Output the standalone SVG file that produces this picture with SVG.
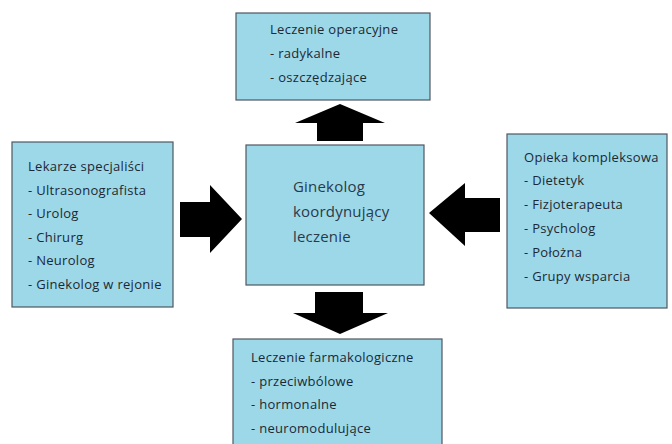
<svg xmlns="http://www.w3.org/2000/svg" width="672" height="444" viewBox="0 0 672 444">
<style>
.box{fill:#9dd8e9;stroke:#4e5861;stroke-width:1.2}
.t{font-family:"Open Sans","Liberation Sans",sans-serif;font-size:13px;letter-spacing:0.3px;fill:#1c2834}
.c{font-family:"Open Sans","Liberation Sans",sans-serif;font-size:15px;letter-spacing:0.2px;fill:#2a3a48}
.arr{fill:#000}
</style>
<rect width="672" height="444" fill="#fff"/>
<g id="top">
<rect class="box" x="236" y="13" width="194" height="87"/>
<text class="t" x="270" y="34">Leczenie operacyjne</text>
<text class="t" x="270" y="58">- radykalne</text>
<text class="t" x="270" y="82">- oszczędzające</text>
</g>
<g id="left">
<rect class="box" x="12" y="142" width="161" height="165"/>
<text class="t" x="28" y="171">Lekarze specjaliści</text>
<text class="t" x="28" y="195">- Ultrasonografista</text>
<text class="t" x="28" y="218">- Urolog</text>
<text class="t" x="28" y="242">- Chirurg</text>
<text class="t" x="28" y="265">- Neurolog</text>
<text class="t" x="28" y="289">- Ginekolog w rejonie</text>
</g>
<g id="center">
<rect class="box" x="246" y="145" width="178" height="140"/>
<text class="c" x="293" y="192">Ginekolog</text>
<text class="c" x="293" y="217">koordynujący</text>
<text class="c" x="293" y="242">leczenie</text>
</g>
<g id="right">
<rect class="box" x="507" y="134" width="160" height="174"/>
<text class="t" x="524" y="162">Opieka kompleksowa</text>
<text class="t" x="524" y="185">- Dietetyk</text>
<text class="t" x="524" y="209">- Fizjoterapeuta</text>
<text class="t" x="524" y="233">- Psycholog</text>
<text class="t" x="524" y="257">- Położna</text>
<text class="t" x="524" y="281">- Grupy wsparcia</text>
</g>
<g id="bottom">
<rect class="box" x="233" y="339" width="209" height="110"/>
<text class="t" x="251" y="362">Leczenie farmakologiczne</text>
<text class="t" x="251" y="386">- przeciwbólowe</text>
<text class="t" x="251" y="409">- hormonalne</text>
<text class="t" x="251" y="433">- neuromodulujące</text>
</g>
<g id="connectors">
<polygon class="arr" points="340,104 385,123 363,123 363,141 317,141 317,123 295,123"/>
<polygon class="arr" points="242,219 210,185 210,202 180,202 180,237 210,237 210,253"/>
<polygon class="arr" points="429,213 465,183 465,198 500,198 500,232 465,232 465,246"/>
<polygon class="arr" points="340,334 388,313 363,313 363,292 315,292 315,313 293,313"/>
</g>
</svg>
